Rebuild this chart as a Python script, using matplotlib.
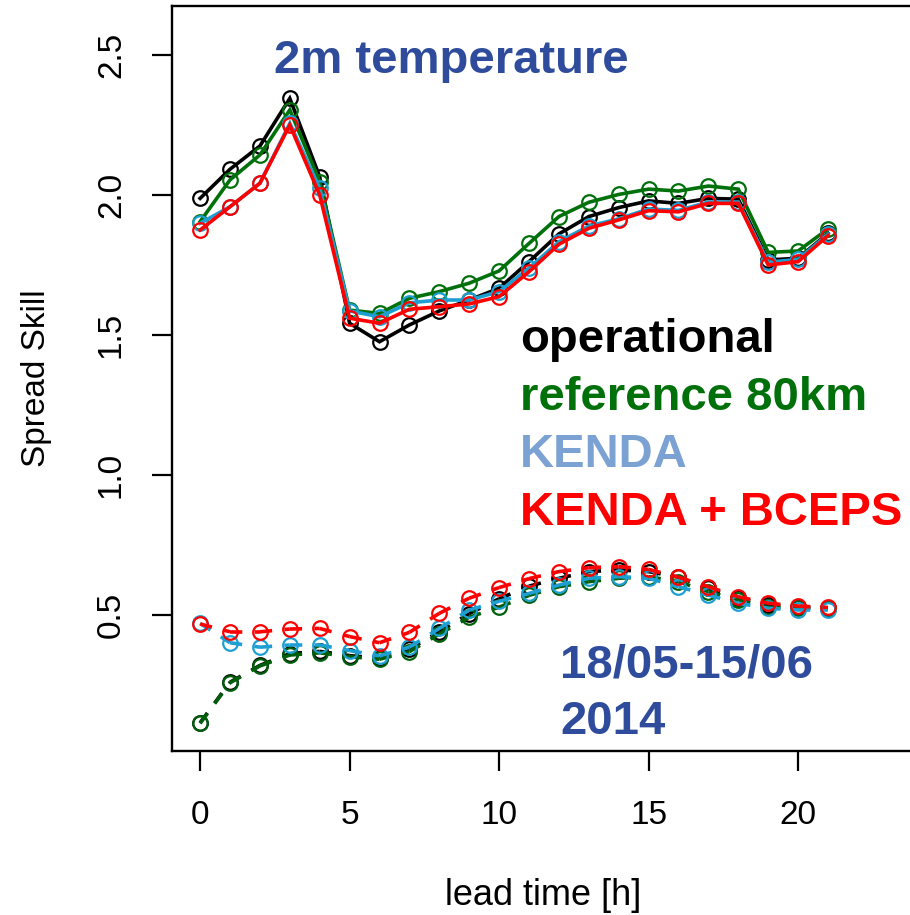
import matplotlib
matplotlib.use("Agg")
import matplotlib.pyplot as plt
from matplotlib.collections import LineCollection
import numpy as np

plt.rcParams['font.family'] = ['Liberation Sans', 'DejaVu Sans']

lead_time = [0, 1, 2, 3, 4, 5, 6, 7, 8, 9, 10, 11, 12, 13, 14, 15, 16, 17, 18, 19, 20, 21]

# skill (solid) curves
oper_skill = [1.988, 2.092, 2.175, 2.345, 2.065, 1.542, 1.476, 1.536, 1.586, 1.625, 1.667,
              1.762, 1.861, 1.923, 1.955, 1.979, 1.970, 1.988, 1.985, 1.768, 1.774, 1.863]
ref80_skill = [1.905, 2.054, 2.143, 2.304, 2.048, 1.589, 1.577, 1.631, 1.655, 1.685, 1.729,
               1.827, 1.923, 1.974, 2.002, 2.021, 2.014, 2.032, 2.021, 1.795, 1.800, 1.879]
kenda_skill = [1.899, 1.958, 2.042, 2.256, 2.024, 1.586, 1.565, 1.615, 1.625, 1.625, 1.655,
               1.739, 1.833, 1.889, 1.915, 1.950, 1.945, 1.975, 1.975, 1.760, 1.770, 1.860]
bceps_skill = [1.875, 1.958, 2.042, 2.250, 2.000, 1.560, 1.542, 1.592, 1.601, 1.611, 1.637,
               1.726, 1.824, 1.881, 1.911, 1.944, 1.940, 1.970, 1.970, 1.750, 1.762, 1.855]

# spread (dashed) curves
oper_spread = [0.115, 0.260, 0.320, 0.362, 0.370, 0.355, 0.345, 0.378, 0.440, 0.505, 0.558,
               0.603, 0.631, 0.655, 0.661, 0.655, 0.635, 0.595, 0.560, 0.536, 0.527, 0.524]
ref80_spread = [0.113, 0.258, 0.318, 0.357, 0.365, 0.351, 0.342, 0.369, 0.432, 0.492, 0.528,
                0.570, 0.601, 0.619, 0.631, 0.637, 0.619, 0.583, 0.554, 0.527, 0.524, 0.524]
kenda_spread = [0.470, 0.401, 0.385, 0.393, 0.393, 0.373, 0.354, 0.385, 0.452, 0.518, 0.549,
                0.577, 0.607, 0.631, 0.637, 0.631, 0.601, 0.571, 0.542, 0.524, 0.518, 0.518]
bceps_spread = [0.468, 0.440, 0.440, 0.450, 0.452, 0.423, 0.401, 0.438, 0.506, 0.560, 0.598,
                0.630, 0.655, 0.669, 0.673, 0.663, 0.635, 0.601, 0.565, 0.542, 0.532, 0.527]

labels = ["operational", "reference 80km", "KENDA", "KENDA + BCEPS"]
line_colors = ["#000000", "#00700A", "#1E9FD2", "#FF0000"]
spread_colors = ["#000000", "#005F0A", "#1E9FD2", "#FF0000"]
label_colors = ["#000000", "#00700A", "#7BA2D2", "#FF0000"]
title_color = "#2E4C9B"

fig = plt.figure(figsize=(9.1, 9.15), dpi=100)
W, H = 910, 915
left_px, right_px, top_px, bot_px = 172, 915, 6, 751
ax = fig.add_axes([left_px / W, 1 - bot_px / H, (right_px - left_px) / W, (bot_px - top_px) / H])

x = np.array(lead_time, dtype=float)
LW = 2.6
MS = 10.5
MEW = 1.6

skills = [oper_skill, ref80_skill, kenda_skill, bceps_skill]
spreads = [oper_spread, ref80_spread, kenda_spread, bceps_spread]

for ys, c in zip(skills, line_colors):
    ax.plot(x, ys, color=c, lw=LW, marker='o', ms=MS, mfc='none', mec=c, mew=MEW,
            solid_joinstyle='miter', zorder=3)

for ys, c in zip(spreads, spread_colors):
    y = np.array(ys)
    pts = np.column_stack([x, y])
    segs = np.stack([pts[:-1], pts[1:]], axis=1)
    lc = LineCollection(segs, colors=c, linewidths=LW, linestyles=[(0, (3.4, 3.4))],
                        capstyle='butt', zorder=3)
    ax.add_collection(lc)
    ax.plot(x, y, ls='none', marker='o', ms=MS, mfc='none', mec=c, mew=MEW, zorder=3)

ax.set_xlim(-0.94, 23.91)
ax.set_ylim(0.0143, 2.675)
ax.set_xticks([0, 5, 10, 15, 20])
ax.set_yticks([0.5, 1.0, 1.5, 2.0, 2.5])
ax.set_yticklabels(["0.5", "1.0", "1.5", "2.0", "2.5"], rotation=90, va='center')
ax.tick_params(axis='both', length=14.4, width=1.6, labelsize=24)
ax.tick_params(axis='x', pad=21)
ax.tick_params(axis='y', pad=18)
for s in ax.spines.values():
    s.set_linewidth(1.7)

ax.set_xlabel("lead time [h]", fontsize=26, labelpad=34)
ax.set_ylabel("Spread Skill", fontsize=24, labelpad=32)

ax.text(8.4, 2.48, "2m temperature", color=title_color, fontsize=34, fontweight='bold',
        ha='center', va='center')
ys_leg = [1.482, 1.275, 1.071, 0.864]
for lab, col, yv in zip(labels, label_colors, ys_leg):
    ax.text(10.7, yv, lab, color=col, fontsize=34, fontweight='bold', ha='left', va='center')
ax.text(12.04, 0.321, "18/05-15/06", color=title_color, fontsize=34, fontweight='bold',
        ha='left', va='center')
ax.text(12.04, 0.118, "2014", color=title_color, fontsize=34, fontweight='bold',
        ha='left', va='center')

fig.savefig("out.png", dpi=100)
